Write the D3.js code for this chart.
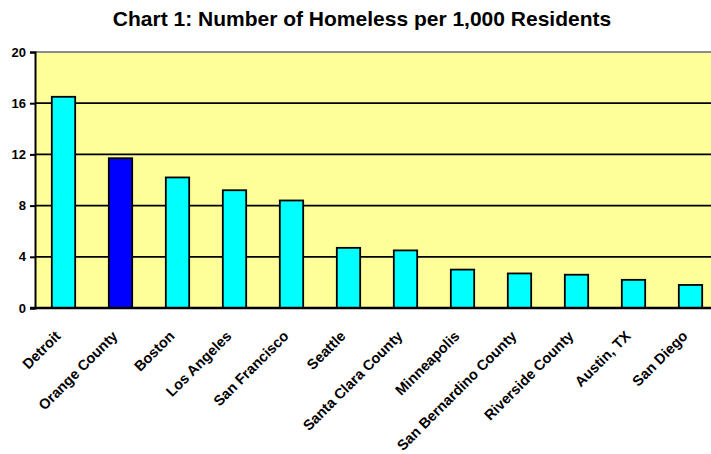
<!DOCTYPE html>
<html>
<head>
<meta charset="utf-8">
<script src="https://cdn.jsdelivr.net/npm/d3@7"></script>
<style>
    body { margin: 0; background: #fff; }
    text { font-family: "Liberation Sans", Arial, sans-serif; font-weight: bold; }
</style>
</head>
<body>
<div id="chart"></div>
<script>
const width = 711
const height = 454
const margins = { top: 52, bottom: 146, left: 35, right: -8 }

const cities = ['Detroit', 'Orange County', 'Boston', 'Los Angeles', 'San Francisco', 'Seattle',
    'Santa Clara County', 'Minneapolis', 'San Bernardino County', 'Riverside County', 'Austin, TX', 'San Diego']
const homeless = [16.5, 11.7, 10.2, 9.2, 8.4, 4.7, 4.5, 3.0, 2.7, 2.6, 2.2, 1.8]
const yTicks = [0, 4, 8, 12, 16, 20]
const highlight = 'Orange County'

const w = width - margins.left - margins.right
const h = height - margins.top - margins.bottom

let svg = d3.select('#chart').append('svg').attr('width', width).attr('height', height)

svg.append('text')
    .attr('x', 362).attr('y', 26)
    .attr('text-anchor', 'middle')
    .style('font-size', '21px')
    .text('Chart 1: Number of Homeless per 1,000 Residents')

let elementGroup = svg.append('g').attr('transform', `translate(${margins.left}, ${margins.top})`)

let x = d3.scaleBand().domain(cities).range([0, w]).paddingInner(0.59).paddingOuter(0.295)
let y = d3.scaleLinear().domain([0, 20]).range([h, 0])

// plot background
elementGroup.append('rect')
    .attr('width', width - margins.left).attr('height', h)
    .attr('fill', '#ffff99')
elementGroup.append('line')
    .attr('x1', 0).attr('x2', width).attr('y1', 0).attr('y2', 0)
    .attr('stroke', '#8c8c8c').attr('stroke-width', 2)

// gridlines
elementGroup.selectAll('line.grid').data(yTicks.filter(d => d > 0 && d < 20)).enter()
    .append('line').attr('class', 'grid')
    .attr('x1', 0).attr('x2', width)
    .attr('y1', d => y(d)).attr('y2', d => y(d))
    .attr('stroke', '#000').attr('stroke-width', 1.8)

// bars
elementGroup.selectAll('rect.bar').data(cities).enter()
    .append('rect').attr('class', 'bar')
    .attr('x', d => x(d))
    .attr('width', x.bandwidth())
    .attr('y', (d, i) => y(homeless[i]))
    .attr('height', (d, i) => h - y(homeless[i]))
    .attr('fill', d => d === highlight ? '#0000ff' : '#00ffff')
    .attr('stroke', '#000').attr('stroke-width', 1.8)

// y axis
let yAxisGroup = elementGroup.append('g')
    .call(d3.axisLeft(y).tickValues(yTicks).tickSize(5).tickPadding(4))
yAxisGroup.select('.domain').attr('stroke-width', 2)
yAxisGroup.selectAll('.tick line').attr('stroke-width', 2)
yAxisGroup.selectAll('.tick text').style('font-size', '13px').attr('fill', '#000')

// x axis
let xAxisGroup = elementGroup.append('g').attr('transform', `translate(0, ${h})`)
    .call(d3.axisBottom(x).tickSize(0).tickPadding(0))
xAxisGroup.select('.domain').remove()
xAxisGroup.append('line')
    .attr('x1', -5).attr('x2', width).attr('y1', 0).attr('y2', 0)
    .attr('stroke', '#000').attr('stroke-width', 2.5)
xAxisGroup.selectAll('.tick text')
    .style('font-size', '14.5px').attr('fill', '#000')
    .attr('text-anchor', 'end')
    .attr('dy', '0')
    .attr('transform', 'translate(-2, 29) rotate(-45)')
</script>
</body>
</html>
